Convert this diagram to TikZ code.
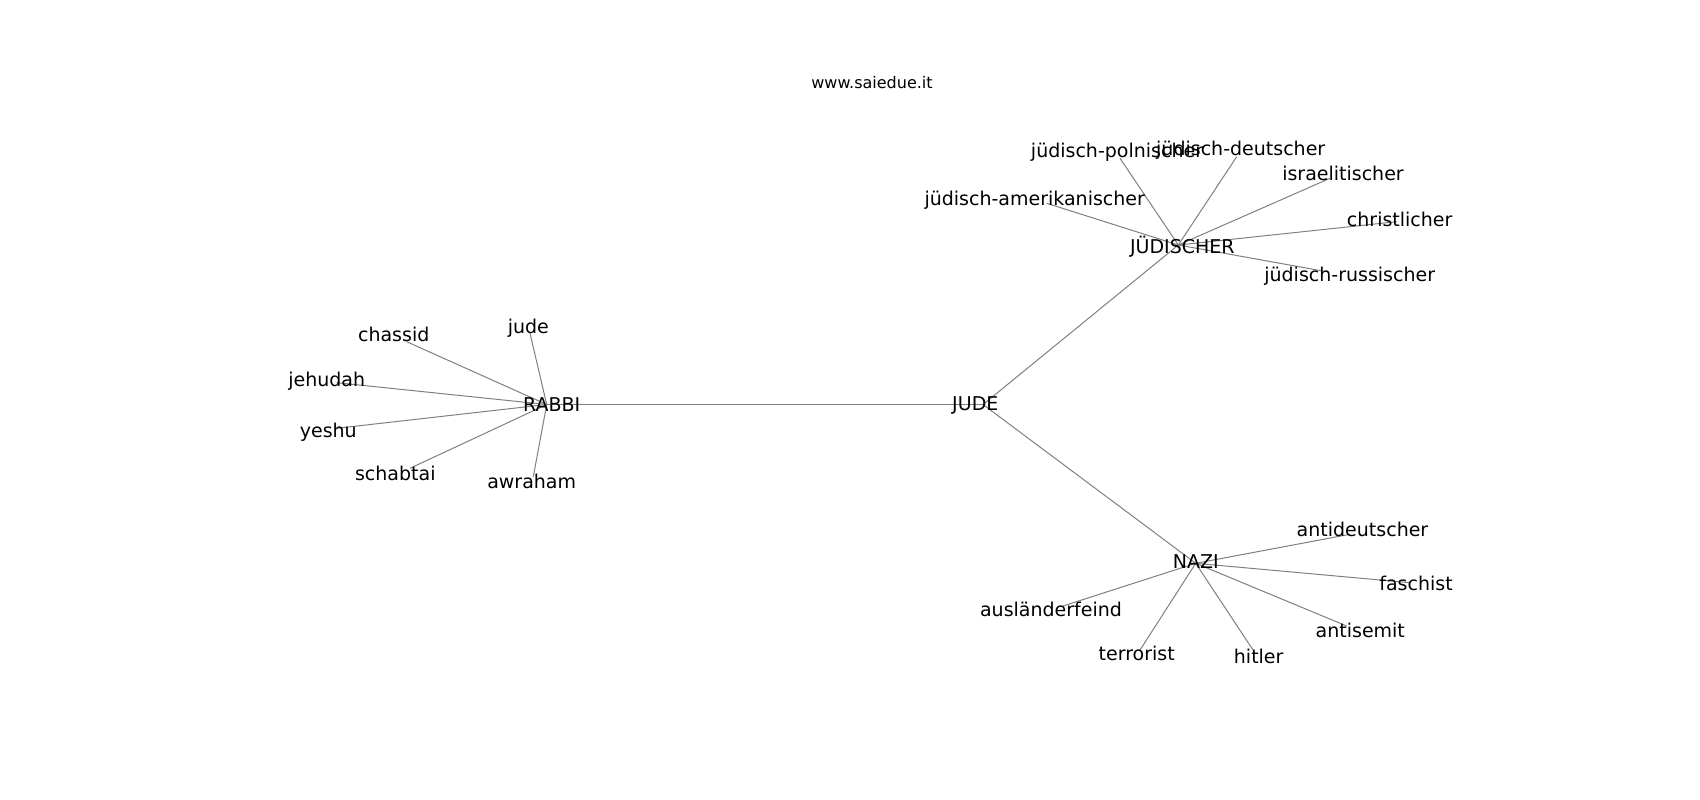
\documentclass[tikz,border=0pt]{standalone}
\usepackage{fontspec}
\setmainfont{DejaVu Sans}
\definecolor{edgegray}{RGB}{128,128,128}
\tikzset{
  lbl/.style={inner sep=0pt, text height=13.9bp, text depth=0pt, anchor=center, font=\fontsize{19bp}{23bp}\selectfont, text=black},
  ttl/.style={inner sep=0pt, text height=11.7bp, text depth=0pt, anchor=center, font=\fontsize{16bp}{19bp}\selectfont, text=black},
  edge/.style={draw=edgegray, line width=1bp}
}
\begin{document}
\begin{tikzpicture}[x=1bp,y=-1bp]
\fill[white] (0,0) rectangle (1700,800);
\useasboundingbox (0,0) rectangle (1700,800);
% hub points
\coordinate (pJUDE) at (983,404.5);
\coordinate (pRABBI) at (546.7,404.5);
\coordinate (pJUED) at (1178.3,245);
\coordinate (pNAZI) at (1195.7,563.3);
% leaf points
\coordinate (pchassid) at (406.7,341.7);
\coordinate (pjude) at (530,333.3);
\coordinate (pjehudah) at (336.7,382.7);
\coordinate (pyeshu) at (336.7,428.3);
\coordinate (pschabtai) at (410,468.3);
\coordinate (pawraham) at (533.3,476.7);
\coordinate (ppoln) at (1120,158.3);
\coordinate (pdeut) at (1236.7,156.7);
\coordinate (pisr) at (1330,178.3);
\coordinate (pamer) at (1046.7,203.3);
\coordinate (pchrist) at (1396.7,221.7);
\coordinate (pruss) at (1326.7,271.7);
\coordinate (pantid) at (1350,534.3);
\coordinate (pfasch) at (1410,582.7);
\coordinate (pantis) at (1346.7,626);
\coordinate (phitler) at (1253,650);
\coordinate (pterr) at (1140,650);
\coordinate (pausl) at (1063,606);
% edges
\draw[edge] (pRABBI) -- (pJUDE);
\draw[edge] (pJUDE) -- (pJUED);
\draw[edge] (pJUDE) -- (pNAZI);
\foreach \t in {pchassid,pjude,pjehudah,pyeshu,pschabtai,pawraham}
  \draw[edge] (pRABBI) -- (\t);
\foreach \t in {ppoln,pdeut,pisr,pamer,pchrist,pruss}
  \draw[edge] (pJUED) -- (\t);
\foreach \t in {pantid,pfasch,pantis,phitler,pterr,pausl}
  \draw[edge] (pNAZI) -- (\t);
% labels
\node[ttl] (title) at (872,82.3) {www.saiedue.it};
\node[lbl] (JUDE) at (975.3,403.3) {JUDE};
\node[lbl] (RABBI) at (551.7,405) {RABBI};
\node[lbl] (JUED) at (1182.3,246.7) {JÜDISCHER};
\node[lbl] (NAZI) at (1195.7,561.7) {NAZI};
\node[lbl] (chassid) at (393.7,335) {chassid};
\node[lbl] (jude) at (528.3,326.7) {jude};
\node[lbl] (jehudah) at (326.7,380) {jehudah};
\node[lbl] (yeshu) at (328.3,430.7) {yeshu};
\node[lbl] (schabtai) at (395.3,474) {schabtai};
\node[lbl] (awraham) at (531.7,481.7) {awraham};
\node[lbl] (poln) at (1117,150.7) {jüdisch-polnischer};
\node[lbl] (deut) at (1240.7,148.3) {jüdisch-deutscher};
\node[lbl] (isr) at (1343,173.3) {israelitischer};
\node[lbl] (amer) at (1034.7,198.3) {jüdisch-amerikanischer};
\node[lbl] (christ) at (1399.7,220) {christlicher};
\node[lbl] (russ) at (1349.7,275) {jüdisch-russischer};
\node[lbl] (antid) at (1362.5,530) {antideutscher};
\node[lbl] (fasch) at (1416,584) {faschist};
\node[lbl] (antis) at (1360.3,631) {antisemit};
\node[lbl] (hitler) at (1258.7,656.7) {hitler};
\node[lbl] (terr) at (1136.7,654) {terrorist};
\node[lbl] (ausl) at (1051,609.3) {ausländerfeind};
\end{tikzpicture}
\end{document}
